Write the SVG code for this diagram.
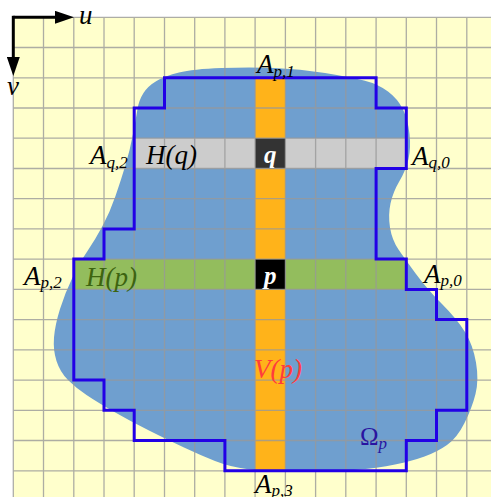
<svg xmlns="http://www.w3.org/2000/svg" width="491" height="497" viewBox="0 0 491 497">
<style>
.lbl{font-family:"Liberation Serif","Times New Roman",serif;font-style:italic;font-size:27px;fill:#000}
.sub{font-size:17px}
.grid{fill:none;stroke:#999;stroke-opacity:0.8;stroke-width:1.3}
.outline{fill:none;stroke:#2200e6;stroke-width:3;stroke-linejoin:miter}
.axis{fill:none;stroke:#000;stroke-width:3}
</style>
<defs>
<marker id="arr" viewBox="0 0 19 13" markerWidth="19" markerHeight="13" refX="1" refY="6.5" orient="auto" markerUnits="userSpaceOnUse">
<path d="M0 0L19 6.5L0 13z" fill="#000"/>
</marker>
</defs>
<rect width="491" height="497" fill="#fff"/>
<rect x="13.3" y="17.3" width="478" height="480" fill="#ffffcc"/>
<g id="region">
<path fill="#6f9fcf" d="M156.5 81 Q165 76 179 72.5 Q193 69 221.5 68 Q250 67 275 68 Q300 69 325 73 Q350 77 364 80.5 Q378 84 388 91.5 Q398 99 403 109.5 Q408 120 409.5 134 Q411 148 408.5 159 Q406 170 399.5 181 Q393 192 390.5 203.5 Q388 215 390 227.5 Q392 240 398.5 249.5 Q405 259 416 274 Q427 289 442 304 Q457 319 465 332 Q473 345 476 362.5 Q479 380 475.5 394 Q472 408 464.5 423 Q457 438 447 445 Q437 452 424.5 456.5 Q412 461 395 464.5 Q378 468 354 470 Q330 472 300 472 Q270 472 250 469.5 Q230 467 215 461 Q200 455 184 447.5 Q168 440 149 430.5 Q130 421 113.5 411.5 Q97 402 86.5 395 Q76 388 68 380 Q60 372 56.5 361 Q53 350 54 337.5 Q55 325 60 309 Q65 293 72.5 277.5 Q80 262 87.5 251 Q95 240 102.5 226 Q110 212 115.5 196 Q121 180 125.5 165 Q130 150 133 134 Q136 118 137.5 109 Q139 100 143.5 93 Q148 86 156.5 81 Z"/>
</g>
<g id="Vp-column"><rect x="255.1" y="77.8" width="30.25" height="393" fill="#ffb31a"/></g>
<g id="Hq-row"><rect x="134.2" y="138.2" width="272.1" height="30.3" fill="#cccccc"/></g>
<g id="Hp-row"><rect x="73.8" y="259.1" width="332.5" height="30.3" fill="#93bd5d"/></g>
<g id="q-cell"><rect x="255.1" y="138.2" width="30.25" height="30.3" fill="#333333"/></g>
<g id="p-cell"><rect x="255.1" y="259.1" width="30.25" height="30.3" fill="#000000"/></g>
<path class="grid" d="M13.3 17.3V497M43.5 17.3V497M73.8 17.3V497M104 17.3V497M134.2 17.3V497M164.5 17.3V497M194.7 17.3V497M224.9 17.3V497M255.1 17.3V497M285.4 17.3V497M315.6 17.3V497M345.8 17.3V497M376.1 17.3V497M406.3 17.3V497M436.5 17.3V497M466.8 17.3V497M13.3 17.3H491M13.3 47.5H491M13.3 77.8H491M13.3 108H491M13.3 138.2H491M13.3 168.5H491M13.3 198.7H491M13.3 228.9H491M13.3 259.1H491M13.3 289.4H491M13.3 319.6H491M13.3 349.8H491M13.3 380.1H491M13.3 410.3H491M13.3 440.5H491M13.3 470.8H491"/>
<g id="connectors">
<path class="outline" d="M164.5 77.8H376.1V108H406.3V168.5H376.1V259.1H406.3V289.4H436.5V319.6H466.8V410.3H436.5V440.5H406.3V470.8H224.9V440.5H134.2V410.3H104V380.1H73.8V259.1H104V228.9H134.2V108H164.5Z"/>
<path class="axis" d="M13.3 17.3H56" marker-end="url(#arr)"/>
<path class="axis" d="M13.3 15.8V58" marker-end="url(#arr)"/>
</g>
<g id="labels">
<text class="lbl" x="79" y="24" font-size="25">u</text>
<text class="lbl" x="7" y="95" font-size="25">v</text>
<text class="lbl" x="257" y="73">A<tspan class="sub" dy="4">p,1</tspan></text>
<text class="lbl" x="90" y="164">A<tspan class="sub" dy="3.5">q,2</tspan></text>
<text class="lbl" x="412" y="165">A<tspan class="sub" dy="3">q,0</tspan></text>
<text class="lbl" x="24" y="285">A<tspan class="sub" dy="3">p,2</tspan></text>
<text class="lbl" x="424" y="282.5">A<tspan class="sub" dy="3">p,0</tspan></text>
<text class="lbl" x="255" y="493">A<tspan class="sub" dy="3">p,3</tspan></text>
<text class="lbl" x="146" y="164">H(q)</text>
<text class="lbl" x="86" y="286" style="fill:#3d6410">H(p)</text>
<text class="lbl" x="254" y="378" style="fill:#ff3c3c">V(p)</text>
<text class="lbl" x="360" y="445" style="font-style:normal;font-size:25px;fill:#2a14a0">Ω<tspan class="sub" dy="4" style="font-style:italic">p</tspan></text>
<text class="lbl" x="270.2" y="162.5" text-anchor="middle" style="font-weight:bold;font-size:25px;fill:#fff">q</text>
<text class="lbl" x="270.2" y="283.5" text-anchor="middle" style="font-weight:bold;font-size:25px;fill:#fff">p</text>
</g>
</svg>
